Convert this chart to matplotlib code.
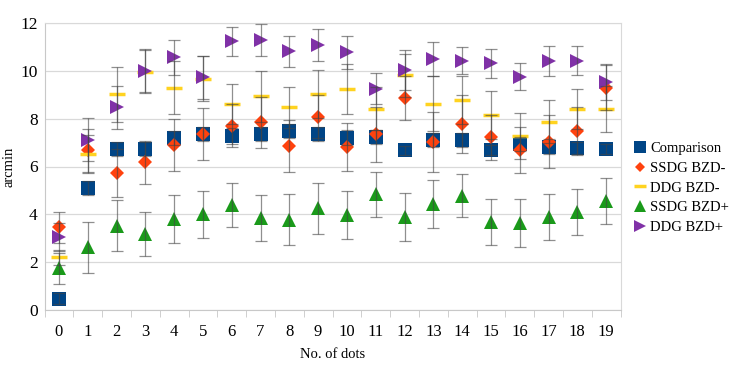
import matplotlib
matplotlib.use("Agg")
import matplotlib.pyplot as plt
import numpy as np

# category positions (No. of dots)
dots = list(range(20))

comparison = [0.48, 5.09, 6.72, 6.74, 7.18, 7.35, 7.28, 7.36, 7.49, 7.36,
              7.21, 7.22, 6.67, 7.11, 7.11, 6.69, 6.95, 6.83, 6.79, 6.74]
comparison_err = [0.25, 0.3, 0.3, 0.3, 0.3, 0.3, 0.35, 0.3, 0.3, 0.3,
                  0.3, 0.3, 0.2, 0.3, 0.3, 0.2, 0.3, 0.3, 0.25, 0.2]

ssdg_minus = [3.46, 6.67, 5.74, 6.18, 6.90, 7.36, 7.70, 7.84, 6.86, 8.09,
              6.82, 7.35, 8.86, 7.04, 7.78, 7.22, 6.69, 7.04, 7.50, 9.30]
ssdg_minus_err = [0.65, 0.9, 1.0, 0.9, 1.1, 1.1, 0.9, 1.05, 1.1, 0.9,
                  1.0, 1.15, 0.92, 1.25, 1.2, 0.95, 0.95, 1.1, 1.0, 0.95]

ddg_minus = [2.20, 6.51, 9.02, 9.97, 9.30, 9.67, 8.62, 8.93, 8.48, 9.02,
             9.25, 8.41, 9.82, 8.63, 8.79, 8.15, 7.27, 7.87, 8.40, 8.40]
ddg_minus_err = [0.3, 0.8, 1.15, 0.9, 1.1, 0.95, 0.85, 1.05, 0.85, 1.0,
                 1.05, 0.9, 0.9, 1.15, 1.0, 1.0, 0.95, 0.9, 0.85, 0.95]

ssdg_plus = [1.74, 2.62, 3.53, 3.18, 3.81, 4.00, 4.39, 3.86, 3.77, 4.25,
             3.97, 4.84, 3.90, 4.42, 4.77, 3.69, 3.65, 3.88, 4.11, 4.56]
ssdg_plus_err = [0.65, 1.07, 1.08, 0.93, 1.0, 0.97, 0.9, 0.96, 1.06, 1.07,
                 1.0, 0.95, 1.0, 1.0, 0.9, 0.96, 1.0, 0.96, 0.96, 0.96]

ddg_plus = [3.05, 7.11, 8.48, 10.01, 10.56, 9.73, 11.23, 11.30, 10.81, 11.09,
            10.77, 9.25, 10.04, 10.50, 10.42, 10.32, 9.76, 10.42, 10.42, 9.55]
ddg_plus_err = [0.6, 0.9, 0.9, 0.9, 0.75, 0.9, 0.6, 0.67, 0.66, 0.68,
                0.7, 0.65, 0.85, 0.7, 0.56, 0.6, 0.58, 0.62, 0.6, 0.75]

series = [
    ("Comparison", comparison, comparison_err, "s", "#004586", 10),
    ("SSDG BZD-", ssdg_minus, ssdg_minus_err, "D", "#ff420e", 7),
    ("DDG BZD-", ddg_minus, ddg_minus_err, "_", "#ffd320", 11),
    ("SSDG BZD+", ssdg_plus, ssdg_plus_err, "^", "#1a9a1a", 10),
    ("DDG BZD+", ddg_plus, ddg_plus_err, ">", "#8031a7", 10),
]

plt.rcParams["font.family"] = ["Liberation Serif", "DejaVu Serif"]

fig = plt.figure(figsize=(7.33, 3.71), dpi=100)
ax = fig.add_axes([44.5 / 733, 1 - 310 / 371, (620.5 - 44.5) / 733, (310 - 23) / 371])

handles = []
for label, vals, err, mk, col, ms in series:
    mew = 2.5 if mk == "_" else 0
    h = ax.plot(dots, vals, linestyle="none", marker=mk, color=col,
                markersize=ms, markeredgewidth=mew, zorder=3, label=label)[0]
    handles.append(h)
    # error bars sit on top of the markers, like the original chart
    ax.errorbar(dots, vals, yerr=err, fmt="none", ecolor="#444444",
                elinewidth=0.9, capsize=4, capthick=0.9, zorder=4, alpha=0.6)

ax.set_xlim(-0.5, 19.5)
ax.set_ylim(0, 12)
ax.set_yticks(range(0, 13, 2))
ax.set_xticks(dots)
ax.set_xticks(np.arange(-0.5, 20, 1), minor=True)
ax.tick_params(axis="x", which="major", length=0, labelsize=12, pad=10)
ax.tick_params(axis="x", which="minor", length=5, color="#c8c8c8")
ax.tick_params(axis="y", length=0, labelsize=12.5, pad=5)
ax.grid(axis="y", color="#d9d9d9", linewidth=0.9, zorder=0)
ax.set_axisbelow(True)
for s in ax.spines.values():
    s.set_color("#d9d9d9")
ax.spines["bottom"].set_color("#c8c8c8")
ax.spines["left"].set_color("#c8c8c8")

ax.set_xlabel("No. of dots", fontsize=10.5, labelpad=6)
ax.set_ylabel("arcmin", fontsize=10.5, labelpad=3)

fig.legend(handles=handles, loc="center left", bbox_to_anchor=(630 / 733, 1 - 188 / 371),
           frameon=False, fontsize=10.5, handlelength=0.6, handletextpad=0.4,
           labelspacing=0.45, markerscale=0.8, borderaxespad=0)

fig.savefig("out.png", dpi=100)
